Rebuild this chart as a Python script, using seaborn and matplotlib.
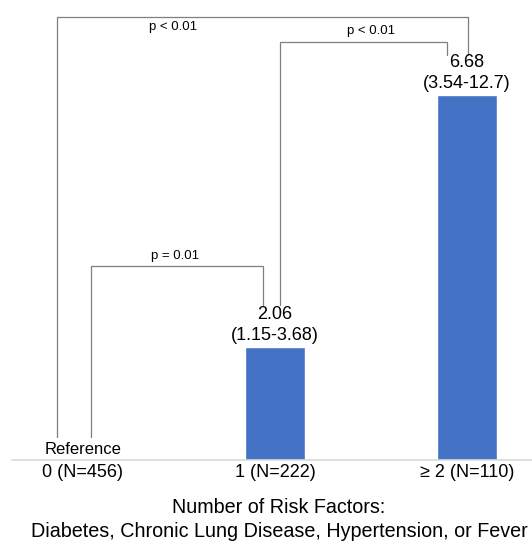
import seaborn as sns
import matplotlib.pyplot as plt
import pandas as pd

# data
categories = ["0 (N=456)", "1 (N=222)", "\u2265 2 (N=110)"]
odds_ratio = [0.0, 2.06, 6.68]
ci_labels = ["", "(1.15-3.68)", "(3.54-12.7)"]
p_labels = ["p = 0.01", "p < 0.01", "p < 0.01"]

df = pd.DataFrame({"group": categories, "or": odds_ratio})

sns.set_style("white")
plt.rcParams["font.family"] = ["Liberation Sans", "DejaVu Sans"]
plt.rcParams["text.color"] = "black"
plt.rcParams["xtick.color"] = "black"
plt.rcParams["axes.labelcolor"] = "black"

fig = plt.figure(figsize=(5.32, 5.41), dpi=100)
ax = fig.add_axes([12 / 532, 81 / 541, 520 / 532, 460 / 541])

sns.barplot(data=df, x="group", y="or", color="#4472C4", width=0.31,
            saturation=1, ax=ax)

ax.set_xlim(-0.37, 2.34)
ax.set_ylim(0, 8.42)

# value labels
for i, (v, ci) in enumerate(zip(odds_ratio, ci_labels)):
    if i == 0:
        ax.text(i, 0.2, "Reference", ha="center", va="center", fontsize=12)
        continue
    ax.text(i, v + 0.6, f"{v:.2f}", ha="center", va="center", fontsize=13)
    ax.text(i, v + 0.22, ci, ha="center", va="center", fontsize=13)

# significance brackets
gray = "#7f7f7f"
def bracket(x1, y1, x2, y2, top, label, lx, above):
    ax.plot([x1, x1, x2, x2], [y1, top, top, y2], color=gray, lw=0.9,
            clip_on=False)
    if above:
        ax.text(lx, top + 0.08, label, ha="center", va="bottom", fontsize=9.5)
    else:
        ax.text(lx, top - 0.08, label, ha="center", va="top", fontsize=9.5)

bracket(0.04, 0.42, 0.94, odds_ratio[1] + 0.78, 3.55, p_labels[0], 0.48, True)
bracket(1.026, odds_ratio[1] + 0.78, 1.896, odds_ratio[2] + 0.74, 7.66, p_labels[1], 1.5, True)
bracket(-0.135, 0.42, 2.005, odds_ratio[2] + 0.74, 8.11, p_labels[2], 0.47, False)

sns.despine(ax=ax, left=True, top=True, right=True, bottom=False)
ax.spines["bottom"].set_color("#d9d9d9")
ax.spines["bottom"].set_linewidth(1.2)
ax.set_yticks([])
ax.tick_params(axis="x", length=0, labelsize=13, pad=3)
ax.set_ylabel("")
ax.set_xlabel("Number of Risk Factors:\nDiabetes, Chronic Lung Disease, Hypertension, or Fever",
              fontsize=14.2, linespacing=1.38)
ax.xaxis.set_label_coords((279 - 12) / 520, -0.082)

fig.savefig("out.png", dpi=100)
